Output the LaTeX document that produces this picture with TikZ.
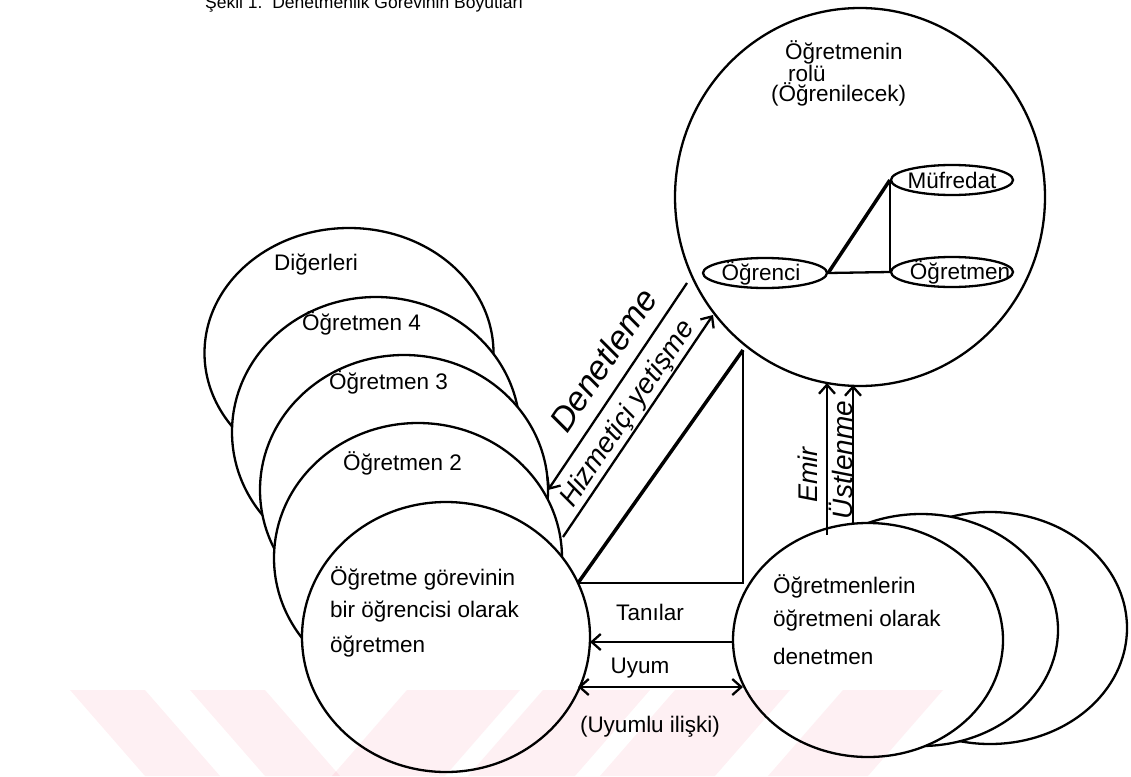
\documentclass[tikz,border=0pt]{standalone}
\usepackage{fontspec}
\setmainfont{Liberation Sans}
\usetikzlibrary{shapes.geometric,arrows.meta}
\definecolor{wmpink}{RGB}{254,240,243}
\begin{document}
\begin{tikzpicture}[x=1pt,y=-1pt,
  circ/.style={ellipse,draw,line width=2.3pt,fill=white,inner sep=0pt},
  inell/.style={ellipse,draw,line width=2.3pt,fill=white,inner sep=0pt,minimum width=122pt,minimum height=30pt},
  lbl/.style={font=\fontsize{22.5}{27}\selectfont,inner sep=0pt},
  hand/.style={font=\fontsize{#1}{30}\selectfont\itshape,inner sep=0pt},
  conn/.style={line width=2.3pt},
  heavy/.style={line width=3.5pt},
  arr/.style={line width=2.3pt,-{Straight Barb[length=9pt,width=16pt,line width=2.3pt]}},
  barr/.style={line width=2.3pt,{Straight Barb[length=9pt,width=16pt,line width=2.3pt]}-{Straight Barb[length=9pt,width=16pt,line width=2.3pt]}},
  wm/.style={fill=wmpink,draw=none}
]
\useasboundingbox (0,0) rectangle (1131,776);

% title (cut at top edge)
\node[anchor=base west,font=\fontsize{17.5}{20}\selectfont,inner sep=0pt] (title) at (205,9) {Şekil 1.\ \ Denetmenlik Görevinin Boyutları};

% top-right circle
\node[circ,minimum width=370pt,minimum height=378pt] (rol) at (860,197) {};
\node[lbl,anchor=west] (rol1) at (785,52) {Öğretmenin};
\node[lbl,anchor=west] (rol2) at (788,73) {rolü};
\node[lbl,anchor=west] (rol3) at (771,94) {(Öğrenilecek)};

\node[inell] (muf) at (952,180) {};
\node[lbl] (muft) at (952,180) {Müfredat};
\node[inell,minimum width=124pt] (ogr) at (765,273) {};
\node[lbl] (ogrt) at (761,273) {Öğrenci};
\node[inell] (ogt) at (952,272) {};
\node[lbl] (ogtt) at (960,272) {Öğretmen};
\draw[heavy] (ogr.east) -- (muf.west);
\draw[conn] (muf.west) -- (ogt.west);
\draw[conn] (ogr.east) -- (ogt.west);

% left stack
\node[circ,minimum width=289pt,minimum height=250pt] (dig) at (349,353) {};
\node[circ,minimum width=288pt,minimum height=270pt] (o4) at (376,432) {};
\node[circ,minimum width=288pt,minimum height=270pt] (o3) at (404,490) {};
\node[circ,minimum width=288pt,minimum height=270pt] (o2) at (418,558) {};
\node[circ,minimum width=288pt,minimum height=270pt] (og) at (446,637) {};
\node[lbl,anchor=west] (digt) at (274,265) {Diğerleri};
\node[lbl,anchor=west] (o4t) at (302,323) {Öğretmen 4};
\node[lbl,anchor=west] (o3t) at (329,382) {Öğretmen 3};
\node[lbl,anchor=west] (o2t) at (343,463) {Öğretmen 2};
\node[lbl,anchor=west] (ogt1) at (330,578) {Öğretme görevinin};
\node[lbl,anchor=west] (ogt2) at (330,612) {bir öğrencisi olarak};
\node[lbl,anchor=west] (ogt3) at (330,647) {öğretmen};

% right stack
\node[circ,minimum width=274pt,minimum height=232pt] (b3) at (990,628) {};
\node[circ,minimum width=274pt,minimum height=232pt] (b2) at (921,630) {};
\node[circ,minimum width=270pt,minimum height=234pt] (den) at (868,640) {};
\node[lbl,anchor=west] (den1) at (773,586) {Öğretmenlerin};
\node[lbl,anchor=west] (den2) at (773,621) {öğretmeni olarak};
\node[lbl,anchor=west] (den3) at (773,656) {denetmen};

% triangle
\coordinate (tA) at (578,583);
\coordinate (tB) at (743,350);
\coordinate (tC) at (743,583);
\draw[heavy] (tA) -- (tB);
\draw[conn] (tB) -- (tC) -- (tA);

% diagonal arrows
\coordinate (d1) at (687,283);
\coordinate (d2) at (548,490);
\coordinate (h1) at (563,537);
\coordinate (h2) at (713,315);
\draw[arr] (d1) -- (d2);
\draw[arr] (h1) -- (h2);
\node[hand=34,rotate=56] (dent) at (603,360) {Denetleme};
\node[hand=28,rotate=56] (hizt) at (628,414) {Hizmetiçi yetişme};

% vertical arrows
\coordinate (e1) at (827,535);
\coordinate (e2) at (827,383);
\coordinate (u1) at (853,523);
\coordinate (u2) at (853,385);
\draw[arr] (e1) -- (e2);
\draw[arr] (u1) -- (u2);
\node[hand=27,rotate=90] (emt) at (808,475) {Emir};
\node[hand=28,rotate=90] (ust) at (841,460) {Üstlenme};

% horizontal arrows
\coordinate (ta1) at (732,642);
\coordinate (ta2) at (590,642);
\draw[arr] (ta1) -- (ta2);
\coordinate (uy1) at (578,687);
\coordinate (uy2) at (743,687);
\draw[barr] (uy1) -- (uy2);
\node[lbl] (tant) at (650,612) {Tanılar};
\node[lbl] (uyt) at (640,668) {Uyum};
\node[lbl] (uylt) at (650,727) {(Uyumlu ilişki)};

% watermark stripes
\begin{scope}[blend mode=multiply]
\fill[wm] (70,690) -- (145,690) -- (220,776) -- (145,776) -- cycle;
\fill[wm] (190,690) -- (265,690) -- (340,776) -- (265,776) -- cycle;
\fill[wm] (407,690) -- (520,690) -- (445,776) -- (332,776) -- cycle;
\fill[wm] (543,690) -- (650,690) -- (575,776) -- (468,776) -- cycle;
\fill[wm] (675,690) -- (790,690) -- (715,776) -- (600,776) -- cycle;
\fill[wm] (843,690) -- (943,690) -- (868,776) -- (768,776) -- cycle;
\end{scope}
\end{tikzpicture}
\end{document}
